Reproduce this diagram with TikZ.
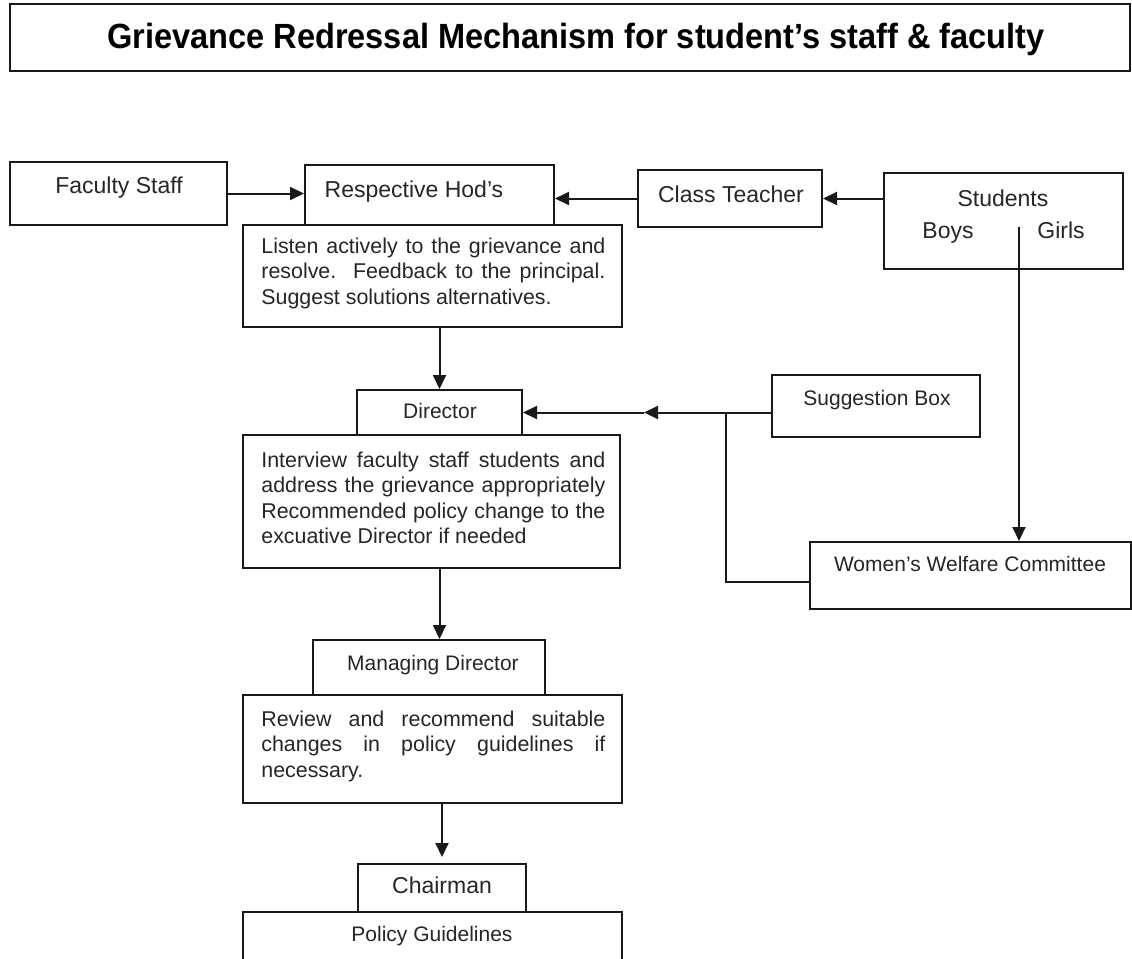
\documentclass[tikz,border=0pt]{standalone}
\usepackage{fontspec}
\setmainfont{Liberation Sans}
\newfontfamily\titlefont[FakeStretch=0.93]{Liberation Sans}
\usetikzlibrary{arrows.meta,fit,calc}
\tikzset{
  bx/.style={draw=black!90, line width=1pt, inner sep=0pt, rectangle},
  lbla/.style={font=\fontsize{11.5}{13}\selectfont, inner sep=0pt, anchor=base, text=black!85},
  lblb/.style={font=\fontsize{10.5}{12}\selectfont, inner sep=0pt, anchor=base, text=black!85},
  para/.style={font=\fontsize{10.7}{12.75}\selectfont, inner sep=0pt, anchor=base west, text=black!85},
  ttl/.style={font=\titlefont\fontsize{17.5}{19}\selectfont\bfseries, inner sep=0pt, anchor=base, text=black},
  arr/.style={draw=black!90, line width=1pt, -{Triangle[length=7pt,width=6.5pt]}},
  ln/.style={draw=black!90, line width=1pt},
}
\newcommand\jline[1]{\hbox to 172pt{#1}}
\newcommand\lastline[1]{\hbox to 172pt{#1\hfil}}
\begin{document}
\begin{tikzpicture}[x=0.5pt,y=-0.5pt]
\clip (0,0) rectangle (1132,959);
\fill[white] (0,0) rectangle (1132,959);

% boxes
\node[bx, fit={(10,4)(1130,71)}] (title) {};
\node[bx, fit={(10,162)(227,225)}] (fac) {};
\node[bx, fit={(305,165)(554,225)}] (hod) {};
\node[bx, fit={(243,225)(622,327)}] (listen) {};
\node[bx, fit={(638,170)(822,227)}] (ct) {};
\node[bx, fit={(884,173)(1123,269)}] (stu) {};
\node[bx, fit={(357,390)(522,435)}] (dir) {};
\node[bx, fit={(243,435)(620,568)}] (inter) {};
\node[bx, fit={(772,375)(980,437)}] (sb) {};
\node[bx, fit={(810,542)(1131,609)}] (wwc) {};
\node[bx, fit={(313,640)(545,695)}] (md) {};
\node[bx, fit={(243,695)(622,803)}] (review) {};
\node[bx, fit={(358,864)(526,912)}] (chair) {};
\node[bx, fit={(243,912)(622,975)}] (policy) {};

% texts
\node[ttl] (ttitle) at (576,48) {Grievance Redressal Mechanism for student’s staff \& faculty};
\node[lbla] (tfac) at (119,193) {Faculty Staff};
\node[lbla] (thod) at (414,197) {Respective Hod’s};
\node[lbla] (tct) at (731,202) {Class Teacher};
\node[lbla] (tstu) at (1003,206) {Students};
\node[lbla] (tboys) at (948,238) {Boys};
\node[lbla] (tgirls) at (1061,238) {Girls};
\node[para] (tlisten) at (261,253) {\vtop{%
  \jline{Listen actively to the grievance and}%
  \jline{resolve.\ \ Feedback to the principal.}%
  \lastline{Suggest solutions alternatives.}}};
\node[lblb] (tdir) at (440,418) {Director};
\node[lblb] (tsb) at (877,405) {Suggestion Box};
\node[para] (tinter) at (261,467) {\vtop{%
  \jline{Interview faculty staff students and}%
  \jline{address the grievance appropriately}%
  \jline{Recommended policy change to the}%
  \lastline{excuative Director if needed}}};
\node[lblb] (twwc) at (970,571) {Women’s Welfare Committee};
\node[lblb] (tmd) at (433,670) {Managing Director};
\node[para] (treview) at (261,726) {\vtop{%
  \jline{Review and recommend suitable}%
  \jline{changes in policy guidelines if}%
  \lastline{necessary.}}};
\node[lbla] (tchair) at (442,893) {Chairman};
\node[lblb] (tpolicy) at (432,941) {Policy Guidelines};

% connectors
\draw[arr] (fac.east) -- (fac.east -| hod.west);
\draw[arr] (ct.west) -- (ct.west -| hod.east);
\draw[arr] (ct.east -| stu.west) -- (ct.east);
\coordinate (gl) at (1019,227);
\draw[arr] (gl) -- (gl |- wwc.north);
\draw[arr] (dir.north |- listen.south) -- (dir.north);
\coordinate (mid) at ($(dir.east)+(121,0)$);
\coordinate (junc) at ($(dir.east)+(203,0)$);
\draw[arr] (sb.west |- dir.east) -- (mid);
\draw[arr] (mid) -- (dir.east);
\coordinate (wwcin) at (810,582);
\draw[ln] (wwcin) -| (junc);
\draw[arr] (dir.north |- inter.south) -- (dir.north |- md.north);
\draw[arr, shorten >=3pt] (chair.north |- review.south) -- (chair.north);
\end{tikzpicture}
\end{document}
